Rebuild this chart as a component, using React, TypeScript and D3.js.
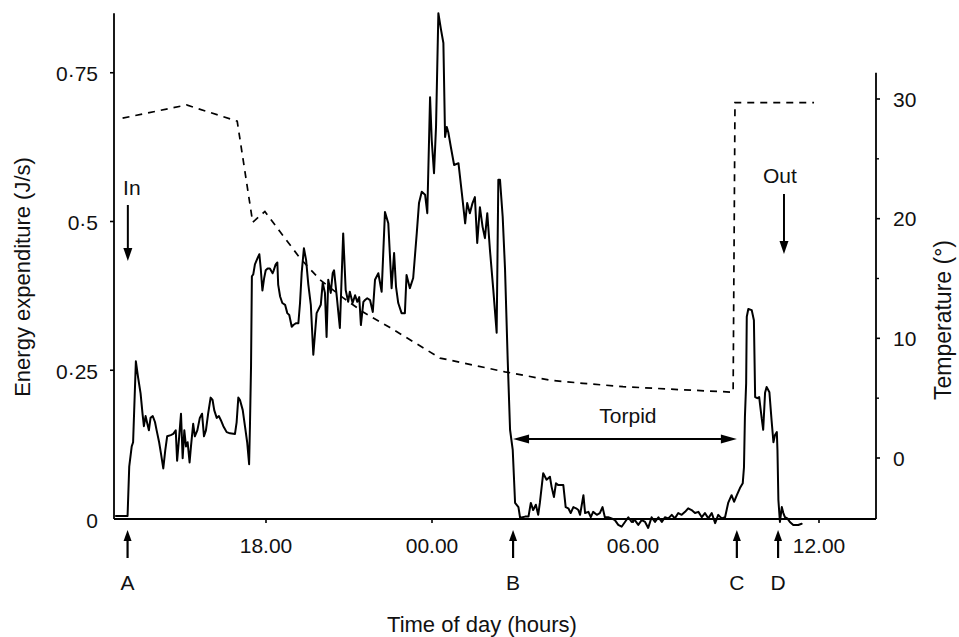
import React from "react";
import * as d3 from "d3";

// Energy expenditure (J/s) against time of day (hours; 24+ = next day)
const energy: [number, number][] = [
  [12.58, 0.005], [13.0, 0.005], [13.06, 0.088], [13.15, 0.122], [13.2, 0.129], [13.3, 0.265],
  [13.38, 0.238], [13.47, 0.211], [13.54, 0.177], [13.59, 0.156], [13.65, 0.173], [13.7, 0.163],
  [13.77, 0.149], [13.83, 0.17], [13.91, 0.173], [13.99, 0.163], [14.05, 0.149], [14.14, 0.129],
  [14.21, 0.109], [14.29, 0.085], [14.36, 0.115], [14.43, 0.139], [14.56, 0.141], [14.65, 0.143],
  [14.74, 0.149], [14.79, 0.098], [14.86, 0.136], [14.93, 0.177], [14.99, 0.102], [15.05, 0.149],
  [15.11, 0.122], [15.17, 0.129], [15.24, 0.095], [15.29, 0.122], [15.37, 0.16], [15.43, 0.139],
  [15.52, 0.149], [15.61, 0.17], [15.69, 0.177], [15.76, 0.139], [15.83, 0.149], [15.91, 0.177],
  [16.0, 0.204], [16.07, 0.2], [16.13, 0.183], [16.22, 0.17], [16.3, 0.173], [16.37, 0.166],
  [16.46, 0.156], [16.58, 0.146], [16.7, 0.144], [16.88, 0.143], [16.94, 0.163], [17.0, 0.204],
  [17.06, 0.2], [17.16, 0.183], [17.24, 0.156], [17.32, 0.129], [17.39, 0.092], [17.42, 0.156],
  [17.46, 0.258], [17.49, 0.408], [17.54, 0.411], [17.6, 0.428], [17.69, 0.438], [17.76, 0.445],
  [17.81, 0.421], [17.87, 0.384], [17.93, 0.404], [17.99, 0.418], [18.06, 0.421], [18.14, 0.421],
  [18.24, 0.413], [18.28, 0.418], [18.35, 0.428], [18.41, 0.431], [18.44, 0.394], [18.51, 0.374],
  [18.59, 0.363], [18.69, 0.36], [18.77, 0.346], [18.84, 0.343], [18.93, 0.323], [18.99, 0.326],
  [19.08, 0.329], [19.17, 0.329], [19.23, 0.363], [19.29, 0.414], [19.37, 0.455], [19.45, 0.435],
  [19.53, 0.394], [19.62, 0.36], [19.71, 0.276], [19.83, 0.346], [19.98, 0.36], [20.05, 0.397],
  [20.13, 0.38], [20.19, 0.306], [20.25, 0.402], [20.34, 0.38], [20.41, 0.413], [20.46, 0.418],
  [20.56, 0.373], [20.67, 0.321], [20.79, 0.48], [20.88, 0.385], [20.97, 0.365], [21.03, 0.382],
  [21.13, 0.363], [21.22, 0.376], [21.3, 0.365], [21.37, 0.373], [21.43, 0.326], [21.52, 0.365],
  [21.58, 0.368], [21.66, 0.371], [21.76, 0.368], [21.86, 0.348], [21.94, 0.402], [22.06, 0.413],
  [22.18, 0.382], [22.3, 0.516], [22.42, 0.497], [22.54, 0.388], [22.63, 0.447], [22.7, 0.39],
  [22.78, 0.363], [22.9, 0.346], [23.02, 0.346], [23.08, 0.41], [23.2, 0.388], [23.32, 0.405],
  [23.45, 0.481], [23.53, 0.531], [23.63, 0.55], [23.75, 0.545], [23.83, 0.514], [23.93, 0.709],
  [23.99, 0.637], [24.06, 0.581], [24.12, 0.659], [24.19, 0.85], [24.27, 0.822], [24.34, 0.8],
  [24.39, 0.642], [24.44, 0.659], [24.49, 0.649], [24.56, 0.626], [24.66, 0.595], [24.79, 0.598],
  [24.89, 0.548], [24.99, 0.497], [25.05, 0.531], [25.13, 0.514], [25.21, 0.531], [25.28, 0.541],
  [25.35, 0.464], [25.43, 0.524], [25.51, 0.491], [25.58, 0.472], [25.65, 0.514], [25.73, 0.452],
  [25.83, 0.385], [25.93, 0.313], [25.98, 0.57], [26.03, 0.57], [26.11, 0.508], [26.18, 0.42],
  [26.26, 0.267], [26.33, 0.15], [26.41, 0.116], [26.48, 0.027], [26.58, 0.02], [26.63, 0.002],
  [26.78, 0.004], [26.88, 0.004], [26.95, 0.027], [27.02, 0.015], [27.1, 0.024], [27.17, 0.007],
  [27.22, 0.027], [27.32, 0.077], [27.42, 0.066], [27.52, 0.071], [27.57, 0.054], [27.64, 0.037],
  [27.7, 0.06], [27.77, 0.057], [27.92, 0.057], [27.99, 0.02], [28.07, 0.018], [28.14, 0.01],
  [28.22, 0.02], [28.3, 0.018], [28.37, 0.015], [28.42, 0.007], [28.52, 0.04], [28.57, 0.01],
  [28.67, 0.012], [28.74, 0.003], [28.81, 0.012], [28.92, 0.007], [29.01, 0.01], [29.09, 0.02],
  [29.16, 0.003], [29.26, 0.003], [29.36, 0.001], [29.46, -0.002], [29.56, -0.01], [29.66, -0.013],
  [29.76, -0.005], [29.86, 0.003], [29.96, -0.005], [30.06, -0.002], [30.17, -0.01], [30.28, -0.002],
  [30.39, -0.005], [30.49, -0.015], [30.6, 0.003], [30.71, -0.005], [30.82, 0.003], [30.93, -0.005],
  [31.03, 0.003], [31.14, 0.001], [31.25, 0.007], [31.35, 0.001], [31.46, 0.01], [31.57, 0.007],
  [31.68, 0.012], [31.78, 0.018], [31.89, 0.015], [32.0, 0.01], [32.11, 0.012], [32.22, 0.003],
  [32.32, 0.01], [32.43, 0.001], [32.54, 0.01], [32.65, -0.007], [32.75, 0.007], [32.86, 0.001],
  [32.97, 0.003], [33.07, 0.027], [33.18, 0.04], [33.26, 0.029], [33.35, 0.04], [33.45, 0.052],
  [33.54, 0.06], [33.58, 0.087], [33.61, 0.171], [33.65, 0.228], [33.67, 0.34], [33.72, 0.353],
  [33.83, 0.351], [33.9, 0.334], [33.94, 0.205], [34.01, 0.203], [34.07, 0.205], [34.15, 0.17],
  [34.2, 0.15], [34.26, 0.212], [34.31, 0.222], [34.4, 0.213], [34.47, 0.166], [34.53, 0.129],
  [34.58, 0.141], [34.64, 0.146], [34.66, 0.116], [34.69, 0.032], [34.74, -0.005], [34.8, 0.02],
  [34.85, 0.01], [34.9, 0.003], [34.98, 0.001], [35.06, -0.005], [35.17, -0.01], [35.33, -0.01],
  [35.44, -0.008],
];

// Ambient temperature (°) against time of day (hours)
const temperature: [number, number][] = [
  [12.82, 28.4], [15.13, 29.5], [16.96, 28.15], [17.52, 19.7], [17.96, 20.6], [18.51, 18.9],
  [19.23, 16.7], [19.95, 14.9], [20.78, 13.4], [21.51, 12.2], [22.48, 10.9], [24.24, 8.35],
  [26.18, 7.2], [27.52, 6.5], [28.51, 6.24], [29.7, 5.96], [31.61, 5.7], [33.23, 5.5],
  [33.29, 29.7], [35.84, 29.7],
];

const xTickHours = [18, 24, 30, 36];
const xTickLabels = ["18.00", "00.00", "06.00", "12.00"];
const energyTicks = [0, 0.25, 0.5, 0.75];
const energyTickLabels = ["0", "0·25", "0·5", "0·75"];
const tempTicks = [0, 10, 20, 30];
const tempMinorTicks = [5, 15, 25];
const eventLabels = ["A", "B", "C", "D"];
const eventHours = [13.0, 26.42, 33.35, 34.68];
const inHour = 13.01;
const outHour = 34.87;

const W = 959;
const H = 637;
const FONT = "'Liberation Sans', Arial, Helvetica, sans-serif";

export default function App() {
  const x = d3
    .scaleLinear()
    .domain([12.51, 18, 24, 30, 36, 37.84])
    .range([114, 266, 432, 633, 819, 876]);
  const yE = d3.scaleLinear().domain([0, 0.75]).range([519, 72.75]);
  const yT = d3.scaleLinear().domain([0, 30]).range([458, 99]);

  const xLeft = x(12.51);
  const xRight = x(37.84);
  const yBase = yE(0);

  const energyLine = d3
    .line<[number, number]>()
    .x((d) => x(d[0]))
    .y((d) => yE(d[1]))
    .curve(d3.curveLinear);
  const tempLine = d3
    .line<[number, number]>()
    .x((d) => x(d[0]))
    .y((d) => yT(d[1]));

  const fs = 21;

  const upArrow = (cx: number, yTop: number, yBot: number, key: string) => (
    <g key={key}>
      <line x1={cx} x2={cx} y1={yTop + 8} y2={yBot} stroke="#000" strokeWidth={2.2} />
      <path d={`M${cx - 4},${yTop + 11} L${cx},${yTop} L${cx + 4},${yTop + 11} Z`} fill="#000" />
    </g>
  );
  const downArrow = (cx: number, yTop: number, yBot: number, key: string) => (
    <g key={key}>
      <line x1={cx} x2={cx} y1={yTop} y2={yBot - 8} stroke="#000" strokeWidth={2} />
      <path d={`M${cx - 4.5},${yBot - 13} L${cx},${yBot} L${cx + 4.5},${yBot - 13} Z`} fill="#000" />
    </g>
  );

  const xB = x(eventHours[1]);
  const xC = x(eventHours[2]);
  const yArr = 439;

  return (
    <svg
      width={W}
      height={H}
      style={{ position: "absolute", left: 0, top: 0, background: "#fff" }}
      fontFamily={FONT}
    >
      <rect x={0} y={0} width={W} height={H} fill="#fff" />

      {/* axes */}
      <line x1={xLeft} x2={xLeft} y1={yE(0.85)} y2={yBase} stroke="#000" strokeWidth={1.8} />
      <line x1={xLeft} x2={xRight} y1={yBase} y2={yBase} stroke="#000" strokeWidth={1.8} />
      <line x1={xRight} x2={xRight} y1={yT(32.2)} y2={yBase} stroke="#000" strokeWidth={1.8} />

      {/* left ticks */}
      {energyTicks.map((t, i) => (
        <g key={"e" + i}>
          {t > 0 && <line x1={xLeft - 4} x2={xLeft} y1={yE(t)} y2={yE(t)} stroke="#000" strokeWidth={1.6} />}
          <text x={98} y={yE(t) + 3} fontSize={fs} textAnchor="end" dominantBaseline="middle" fill="#111">
            {energyTickLabels[i]}
          </text>
        </g>
      ))}

      {/* right ticks */}
      {tempTicks.map((t, i) => (
        <g key={"t" + i}>
          <line x1={xRight} x2={xRight + 4} y1={yT(t)} y2={yT(t)} stroke="#000" strokeWidth={1.6} />
          <text x={893} y={yT(t) + 2} fontSize={fs} textAnchor="start" dominantBaseline="middle" fill="#111">
            {String(t)}
          </text>
        </g>
      ))}
      {tempMinorTicks.map((t, i) => (
        <line key={"tm" + i} x1={xRight} x2={xRight + 3} y1={yT(t)} y2={yT(t)} stroke="#000" strokeWidth={1.4} />
      ))}

      {/* x ticks */}
      {xTickHours.map((h, i) => (
        <g key={"x" + i}>
          <line x1={x(h)} x2={x(h)} y1={yBase} y2={yBase + 4} stroke="#000" strokeWidth={1.6} />
          <text x={x(h)} y={547} fontSize={fs} textAnchor="middle" dominantBaseline="middle" fill="#111">
            {xTickLabels[i]}
          </text>
        </g>
      ))}

      {/* event arrows A-D */}
      {eventHours.map((h, i) => (
        <g key={"ev" + i}>
          {upArrow(x(h), 530, 558, "ua" + i)}
          <text x={x(h)} y={584} fontSize={fs} textAnchor="middle" dominantBaseline="middle" fill="#111">
            {eventLabels[i]}
          </text>
        </g>
      ))}

      {/* temperature (dashed) */}
      <path d={tempLine(temperature) || ""} fill="none" stroke="#000" strokeWidth={1.7} strokeDasharray="7 6" />

      {/* energy */}
      <path
        d={energyLine(energy) || ""}
        fill="none"
        stroke="#000"
        strokeWidth={2}
        strokeLinejoin="round"
        strokeLinecap="round"
      />

      {/* In / Out */}
      <text x={x(inHour) + 4} y={189} fontSize={fs} textAnchor="middle" dominantBaseline="middle" fill="#111">
        In
      </text>
      {downArrow(x(inHour), 205, 261, "in")}
      <text x={x(outHour) - 4} y={177} fontSize={fs} textAnchor="middle" dominantBaseline="middle" fill="#111">
        Out
      </text>
      {downArrow(x(outHour), 194, 254, "out")}

      {/* Torpid */}
      <text x={(xB + xC) / 2 + 3} y={417} fontSize={fs} textAnchor="middle" dominantBaseline="middle" fill="#111">
        Torpid
      </text>
      <line x1={xB + 10} x2={xC - 10} y1={yArr} y2={yArr} stroke="#000" strokeWidth={2} />
      <path d={`M${xB},${yArr} L${xB + 16},${yArr - 4.5} L${xB + 16},${yArr + 4.5} Z`} fill="#000" />
      <path d={`M${xC},${yArr} L${xC - 16},${yArr - 4.5} L${xC - 16},${yArr + 4.5} Z`} fill="#000" />

      {/* axis titles */}
      <text
        transform={`translate(24,277) rotate(-90)`}
        fontSize={22}
        textAnchor="middle"
        dominantBaseline="middle"
        fill="#111"
      >
        Energy expenditure (J/s)
      </text>
      <text
        transform={`translate(945,320) rotate(-90)`}
        fontSize={23}
        textAnchor="middle"
        dominantBaseline="middle"
        fill="#111"
      >
        Temperature (°)
      </text>
      <text x={482} y={626} fontSize={22} textAnchor="middle" dominantBaseline="middle" fill="#111">
        Time of day (hours)
      </text>
    </svg>
  );
}
